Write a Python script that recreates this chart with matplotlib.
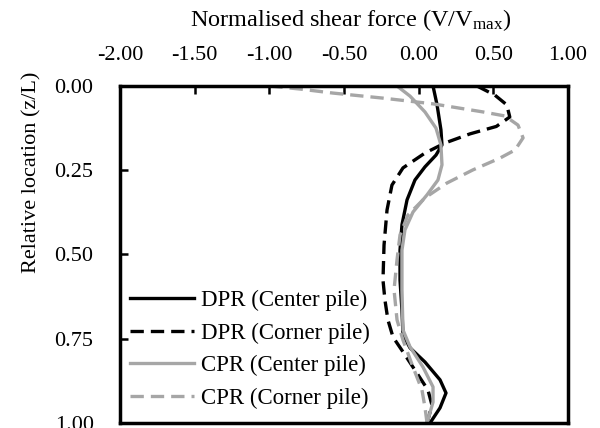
import matplotlib
matplotlib.use("Agg")
import matplotlib.pyplot as plt

plt.rcParams["font.family"] = ["Liberation Serif", "DejaVu Serif"]
plt.rcParams["mathtext.fontset"] = "custom"
plt.rcParams["mathtext.rm"] = "Liberation Serif"
plt.rcParams["mathtext.it"] = "Liberation Serif:italic"

# Shear-force profiles along the pile (z/L), normalised by V_max
dpr_center_z = [0.0, 0.056, 0.13, 0.175, 0.205, 0.24, 0.279, 0.338, 0.412, 0.487,
                0.576, 0.665, 0.739, 0.777, 0.819, 0.872, 0.911, 0.955, 1.0]
dpr_center_v = [0.096, 0.123, 0.149, 0.156, 0.116, 0.042, -0.025, -0.078, -0.112, -0.125,
                -0.125, -0.112, -0.105, -0.058, 0.042, 0.143, 0.183, 0.143, 0.076]

dpr_corner_z = [0.0, 0.027, 0.056, 0.092, 0.12, 0.142, 0.169, 0.199, 0.243, 0.294,
                0.368, 0.472, 0.576, 0.635, 0.694, 0.745, 0.789, 0.843, 0.902, 0.947, 1.0]
dpr_corner_v = [0.39, 0.51, 0.59, 0.61, 0.52, 0.344, 0.177, 0.042, -0.105, -0.179,
                -0.212, -0.232, -0.239, -0.226, -0.206, -0.172, -0.105, -0.025, 0.062, 0.089, 0.056]

cpr_center_z = [0.0, 0.03, 0.077, 0.125, 0.175, 0.234, 0.279, 0.323, 0.374, 0.427,
                0.487, 0.605, 0.724, 0.774, 0.834, 0.893, 0.938, 1.0]
cpr_center_v = [-0.145, -0.058, 0.042, 0.116, 0.149, 0.156, 0.129, 0.056, -0.038, -0.092,
                -0.112, -0.112, -0.105, -0.058, 0.029, 0.096, 0.096, 0.056]

cpr_corner_z = [0.0, 0.009, 0.021, 0.036, 0.053, 0.077, 0.089, 0.116, 0.154, 0.19,
                0.214, 0.249, 0.288, 0.332, 0.383, 0.442, 0.516, 0.605, 0.694, 0.754,
                0.834, 0.902, 0.953, 1.0]
cpr_corner_v = [-1.0, -0.795, -0.574, -0.239, 0.096, 0.431, 0.578, 0.665, 0.699, 0.645,
                0.544, 0.363, 0.189, 0.042, -0.072, -0.125, -0.145, -0.165, -0.145, -0.105,
                -0.038, 0.022, 0.042, 0.056]

x_ticks = [-2.0, -1.5, -1.0, -0.5, 0.0, 0.5, 1.0]
y_ticks = [0.0, 0.25, 0.5, 0.75, 1.0]

GRAY = "#A6A6A6"
LW = 2.4
DASH = (4.0, 2.1)

fig = plt.figure(figsize=(6.0, 4.28), dpi=100)
ax = fig.add_axes([0.2, 0.01168, 0.7467, 0.7874])

ax.plot(dpr_center_v, dpr_center_z, color="black", lw=LW, label="DPR (Center pile)")
ax.plot(dpr_corner_v, dpr_corner_z, color="black", lw=LW, dashes=DASH, label="DPR (Corner pile)")
ax.plot(cpr_center_v, cpr_center_z, color=GRAY, lw=LW, label="CPR (Center pile)")
ax.plot(cpr_corner_v, cpr_corner_z, color=GRAY, lw=LW, dashes=DASH, label="CPR (Corner pile)")

ax.set_xlim(-2.0, 1.0)
ax.set_ylim(1.0, 0.0)
ax.set_xticks(x_ticks)
ax.set_xticklabels([f"{v:.2f}" for v in x_ticks])
ax.set_yticks(y_ticks)
ax.set_yticklabels([f"{v:.2f}" for v in y_ticks])

ax.xaxis.tick_top()
ax.xaxis.set_label_position("top")
ax.tick_params(axis="both", direction="in", length=5.5, width=1.8, labelsize=16)
ax.tick_params(axis="x", pad=15)
ax.tick_params(axis="y", pad=19)

for s in ax.spines.values():
    s.set_linewidth(2.5)

ax.set_xlabel(r"Normalised shear force (V/V$_{\mathrm{max}}$)", fontsize=17.5)
ax.xaxis.set_label_coords(0.515, 1.178)
ax.set_ylabel("Relative location (z/L)", fontsize=16)
ax.yaxis.set_label_coords(-0.176, 0.745)

ax.legend(loc="lower left", bbox_to_anchor=(10 / 448, 14 / 337), frameon=False,
          fontsize=16.5, handlelength=2.8, handletextpad=0.3, labelspacing=0.5,
          borderpad=0, borderaxespad=0)

fig.savefig("out.png", dpi=100)
